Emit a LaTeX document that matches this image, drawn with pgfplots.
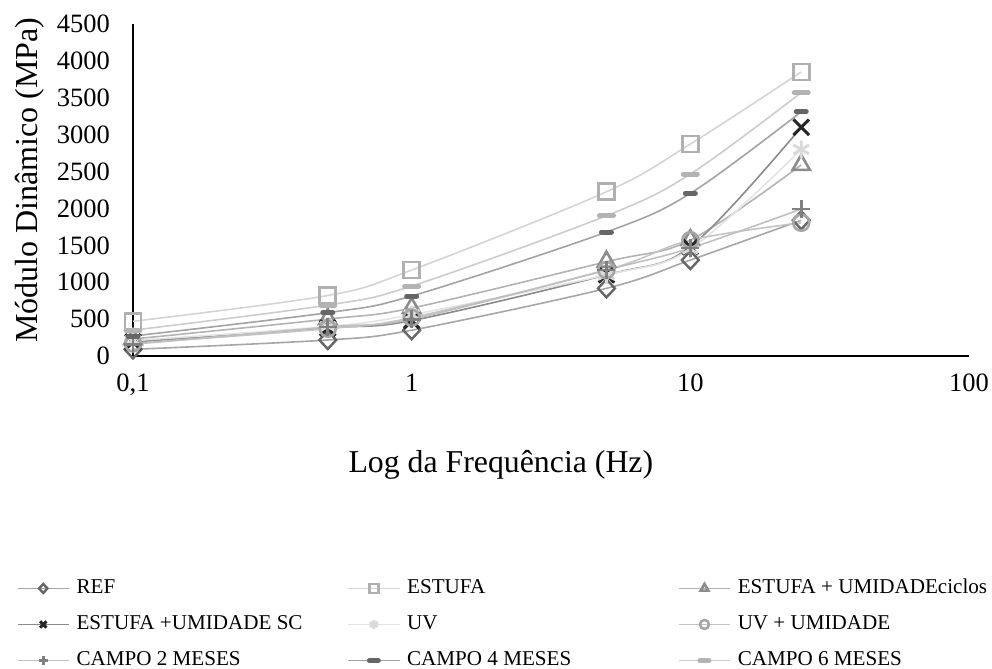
\documentclass[border=0pt]{standalone}
\usepackage{pgfplots}
\pgfplotsset{compat=1.18}
\usepackage{fontspec}
\setmainfont{Liberation Serif}
\definecolor{refm}{HTML}{666666}\definecolor{refl}{HTML}{A6A6A6}
\definecolor{estm}{HTML}{B0B0B0}\definecolor{estl}{HTML}{D4D4D4}
\definecolor{cicm}{HTML}{8C8C8C}\definecolor{cicl}{HTML}{B3B3B3}
\definecolor{scm}{HTML}{262626}\definecolor{scl}{HTML}{8A8A8A}
\definecolor{uvm}{HTML}{D9D9D9}\definecolor{uvl}{HTML}{E3E3E3}
\definecolor{uumm}{HTML}{A6A6A6}\definecolor{uuml}{HTML}{C4C4C4}
\definecolor{c2m}{HTML}{808080}\definecolor{c2l}{HTML}{BFBFBF}
\definecolor{c4m}{HTML}{666666}\definecolor{c4l}{HTML}{A3A3A3}
\definecolor{c6m}{HTML}{B3B3B3}\definecolor{c6l}{HTML}{CCCCCC}
\newcommand{\lgA}[1]{\makebox[278bp][l]{\hspace*{7bp}#1}}
\newcommand{\lgB}[1]{\hspace*{7bp}#1}
\begin{document}
\begin{tikzpicture}
\useasboundingbox (-133bp,-313bp) rectangle (859bp,356bp);
\begin{axis}[
  at={(0,0)}, anchor=south west,
  scale only axis, width=836bp, height=332bp,
  xmode=log, xmin=0.1, xmax=100, ymin=0, ymax=4500,
  axis x line*=bottom, axis y line*=left,
  axis line style={black, line width=1.4bp, -},
  major tick length=0pt, minor tick length=0pt,
  xtick={0.1,1,10,100}, xticklabels={0{,}1,1,10,100},
  ytick={0,500,...,4500},
  /pgf/number format/assume math mode=true,
  /pgf/number format/set thousands separator={},
  tick label style={font=\fontsize{26.5bp}{30bp}\selectfont},
  yticklabel style={anchor=east, inner sep=0pt, xshift=-23bp},
  xticklabel style={anchor=base, inner sep=0pt, yshift=-35bp},
  clip=false,
  every axis y label/.style={at={(axis description cs:-0.124,0.53)}, rotate=90, anchor=center, font=\fontsize{32bp}{36bp}\selectfont},
  every axis x label/.style={at={(axis description cs:0.44,-0.328)}, anchor=center, font=\fontsize{31.8bp}{36bp}\selectfont},
  ylabel={Módulo Dinâmico (MPa)},
  xlabel={Log da Frequência (Hz)},
  legend columns=3,
  legend cell align=left,
  legend style={draw=none, fill=none, inner sep=0pt, outer sep=0pt,
    at={(axis description cs:-0.1388,-0.673)}, anchor=north west,
    font=\fontsize{21.1bp}{24bp}\selectfont,
    row sep=18bp, column sep=0pt,
    nodes={inner sep=0pt, text height=14bp, text depth=4bp}},
  legend image code/.code={%
    \draw[mark repeat=2, mark phase=2, mark size=4.5bp, line width=1.6bp]
      plot coordinates {(0bp,0bp) (25.5bp,0bp) (51bp,0bp)};},
  every axis plot/.append style={smooth, tension=0.55, line width=1.6bp},
]
\addplot[refl, mark=diamond, mark size=9bp, mark options={refm, line width=2.4bp, xscale=1.25}] coordinates {(0.1,90) (0.5,217) (1,350) (5,917) (10,1300) (25,1840)};
\addlegendentry{\lgA{REF}}
\addplot[estl, mark=square, mark size=8bp, mark options={estm, line width=2.6bp}] coordinates {(0.1,470) (0.5,820) (1,1165) (5,2226) (10,2873) (25,3850)};
\addlegendentry{\lgA{ESTUFA}}
\addplot[cicl, mark=triangle, mark size=10bp, mark options={cicm, line width=2.6bp}] coordinates {(0.1,230) (0.5,500) (1,650) (5,1278) (10,1570) (25,2590)};
\addlegendentry{\lgB{ESTUFA + UMIDADEciclos}}
\addplot[scl, mark=x, mark size=11bp, mark options={scm, line width=3bp}] coordinates {(0.1,190) (0.5,380) (1,480) (5,1100) (10,1480) (25,3100)};
\addlegendentry{\lgA{ESTUFA +UMIDADE SC}}
\addplot[uvl, mark=asterisk, mark size=9bp, mark options={uvm, line width=2.8bp}] coordinates {(0.1,210) (0.5,400) (1,560) (5,1100) (10,1450) (25,2800)};
\addlegendentry{\lgA{UV}}
\addplot[uuml, mark=o, mark size=8bp, mark options={uumm, line width=2.6bp}] coordinates {(0.1,170) (0.5,370) (1,520) (5,1165) (10,1570) (25,1806)};
\addlegendentry{\lgB{UV + UMIDADE}}
\addplot[c2l, mark=+, mark size=9bp, mark options={c2m, line width=2.8bp}] coordinates {(0.1,160) (0.5,393) (1,500) (5,1165) (10,1463) (25,1992)};
\addlegendentry{\lgA{CAMPO 2 MESES}}
\addplot[c4l, mark=-, mark size=5bp, mark options={c4m, line width=5bp, line cap=round}] coordinates {(0.1,271) (0.5,587) (1,813) (5,1680) (10,2204) (25,3310)};
\addlegendentry{\lgA{CAMPO 4 MESES}}
\addplot[c6l, mark=-, mark size=7bp, mark options={c6m, line width=5bp, line cap=round}] coordinates {(0.1,350) (0.5,690) (1,948) (5,1901) (10,2466) (25,3570)};
\addlegendentry{\lgB{CAMPO 6 MESES}}
\end{axis}
\end{tikzpicture}
\end{document}
